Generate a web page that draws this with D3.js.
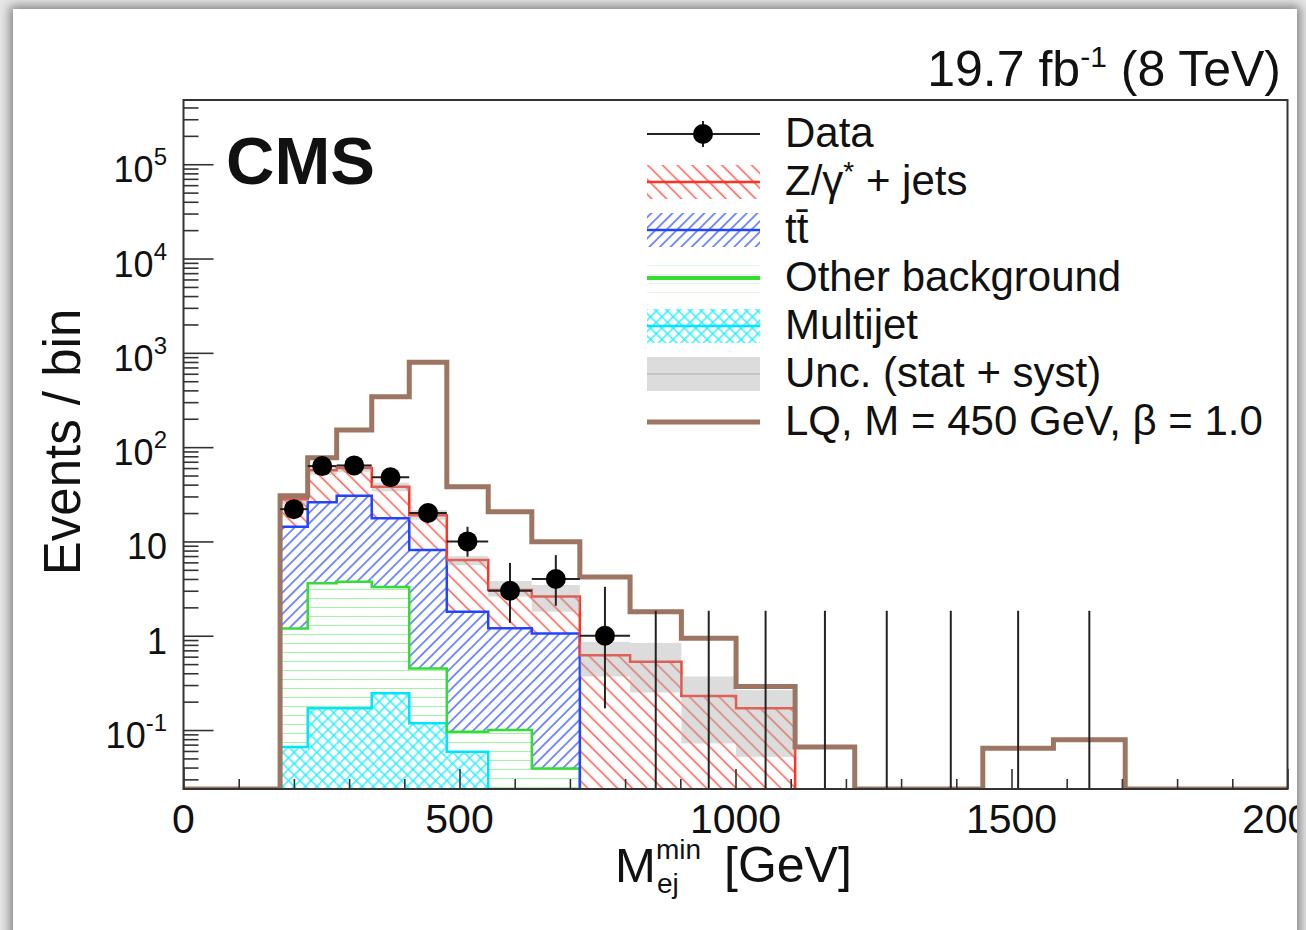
<!DOCTYPE html>
<html>
<head>
<meta charset="utf-8">
<script src="https://cdn.jsdelivr.net/npm/d3@7"></script>
<style>
html, body { margin: 0; padding: 0; width: 1306px; height: 930px; overflow: hidden; background: #e6e6e6; }
#card { position: absolute; left: 13px; top: 9px; width: 1284px; height: 940px; background: #fff; overflow: hidden;
        box-shadow: 0 0 10px 3px rgba(0,0,0,0.45); }
#chart { position: absolute; left: -13px; top: -9px; }
text { font-family: "Liberation Sans", Arial, Helvetica, sans-serif; fill: #111; }
</style>
</head>
<body>
<div id="card"><svg id="chart" width="1306" height="930"></svg></div>
<script>
// bin edges of M_ej^min [GeV] (variable width)
const edges = [175, 225, 277.5, 341, 409, 477, 552, 631, 718, 809, 902, 1001, 1108, 1216, 1332, 1448, 1576, 1706];

// backgrounds, per bin (stacked bottom -> top)
const multijet = [0.066, 0.17, 0.17, 0.245, 0.118, 0.059, 0, 0, 0, 0, 0, 0, 0, 0, 0, 0, 0];
const other    = [1.13, 3.43, 3.57, 3.05, 0.33, 0.037, 0.1, 0.039, 0, 0, 0, 0, 0, 0, 0, 0, 0];
const ttbar    = [13.1, 22.4, 26.8, 14.3, 7.65, 1.70, 1.1, 1.02, 0, 0, 0, 0, 0, 0, 0, 0, 0];
const zjets    = [13.7, 31, 29.5, 20.4, 10.9, 4.55, 1.85, 1.54, 0.62, 0.53, 0.23, 0.17, 0, 0, 0, 0, 0];

// total background uncertainty band
const uncLow  = [25, 51, 54, 34, 17, 5.6, 2.6, 1.8, 0.37, 0.25, 0.072, 0.052, 0, 0, 0, 0, 0];
const uncHigh = [31, 63, 66, 42, 21.5, 7.0, 3.8, 3.45, 0.86, 0.84, 0.37, 0.265, 0, 0, 0, 0, 0];

// signal LQ M = 450 GeV
const lq = [30.5, 77, 152, 343, 794, 38, 20.6, 9.9, 4.2, 1.8, 0.94, 0.29, 0.066, 0, 0, 0.064, 0.079];

// data and its error bars
const data     = [22, 63, 64, 48, 20, 10, 3, 4, 1, 0, 0, 0, 0, 0, 0, 0, 0];
const dataLow  = [17.4, 55.1, 56.0, 41.0, 15.6, 6.9, 1.37, 2.08, 0.17, 0, 0, 0, 0, 0, 0, 0, 0];
const dataHigh = [27.2, 71.9, 72.9, 55.8, 25.1, 14.3, 5.92, 7.16, 3.30, 1.84, 1.84, 1.84, 1.84, 1.84, 1.84, 1.84, 1.84];

const xTicks = [0, 500, 1000, 1500, 2000];
const yTicks = [0.1, 1, 10, 100, 1e3, 1e4, 1e5];
const yTickLabels = [["10", "-1"], ["1", ""], ["10", ""], ["10", "2"], ["10", "3"], ["10", "4"], ["10", "5"]];

const legendLabels = ["Data", "Z/γ* + jets", "tt̄", "Other background", "Multijet", "Unc. (stat + syst)", "LQ, M = 450 GeV, β = 1.0"];

const colRed = "#ff3322", colBlue = "#2244ff", colGreen = "#33dd33", colCyan = "#00e5ff", colLQ = "#9c7663";

const svg = d3.select("#chart");
const x = d3.scaleLinear().domain([0, 2000]).range([183.5, 1287.5]);
const y = d3.scaleLog().domain([0.0237, 4.8e5]).range([789, 100]);
const yBot = y.range()[0], yTop = y.range()[1];
const yv = v => v > 0 ? Math.min(y(v), yBot) : yBot;
const nb = edges.length - 1;

// patterns
const defs = svg.append("defs");
function linePattern(id, size, angle, color, width, cross) {
    const p = defs.append("pattern").attr("id", id).attr("patternUnits", "userSpaceOnUse")
        .attr("width", size).attr("height", size)
        .attr("patternTransform", `rotate(${angle})`);
    p.append("line").attr("x1", size / 2).attr("y1", -1).attr("x2", size / 2).attr("y2", size + 1)
        .attr("stroke", color).attr("stroke-width", width);
    if (cross) {
        p.append("line").attr("x1", -1).attr("y1", size / 2).attr("x2", size + 1).attr("y2", size / 2)
            .attr("stroke", color).attr("stroke-width", width);
    }
}
linePattern("pRed", 10.5, -45, "#ff5a4a", 1.5);
linePattern("pBlue", 7.5, 45, "#4d6bff", 1.5);
linePattern("pGreen", 9, 90, "#a6f2a6", 1.1);
linePattern("pCyan", 8, 45, "#22eeff", 1.4, true);

defs.append("clipPath").attr("id", "plotClip").append("rect")
    .attr("x", x(0)).attr("y", yTop).attr("width", x(2000) - x(0)).attr("height", yBot - yTop);

const plot = svg.append("g").attr("clip-path", "url(#plotClip)");

// stacked backgrounds
const rows = d3.range(nb).map(i => ({ multijet: multijet[i], other: other[i], ttbar: ttbar[i], zjets: zjets[i] }));
const series = d3.stack().keys(["multijet", "other", "ttbar", "zjets"])(rows);
const style = {
    multijet: { pat: "pCyan", col: colCyan },
    other: { pat: "pGreen", col: colGreen },
    ttbar: { pat: "pBlue", col: colBlue },
    zjets: { pat: "pRed", col: colRed }
};

series.forEach(s => {
    plot.append("g").selectAll("rect")
        .data(s.map((d, i) => ({ lo: d[0], hi: d[1], i })).filter(d => d.hi > d.lo))
        .enter().append("rect")
        .attr("x", d => x(edges[d.i]))
        .attr("width", d => x(edges[d.i + 1]) - x(edges[d.i]))
        .attr("y", d => yv(d.hi))
        .attr("height", d => yv(d.lo) - yv(d.hi))
        .attr("fill", `url(#${style[s.key].pat})`);
});

function stepPath(vals) {
    let d = "", open = false;
    vals.forEach((v, i) => {
        if (v > 0) {
            if (!open) { d += `M${x(edges[i])},${yBot}`; open = true; }
            d += `L${x(edges[i])},${yv(v)}L${x(edges[i + 1])},${yv(v)}`;
        } else if (open) {
            d += `L${x(edges[i])},${yBot}`; open = false;
        }
    });
    if (open) d += `L${x(edges[nb])},${yBot}`;
    return d;
}

series.forEach(s => {
    const tops = s.map(d => d[1] > d[0] ? d[1] : 0);
    plot.append("path").attr("d", stepPath(tops))
        .attr("fill", "none").attr("stroke", style[s.key].col).attr("stroke-width", 2.5);
});

// uncertainty band
plot.append("g").selectAll("rect")
    .data(d3.range(nb).filter(i => uncHigh[i] > 0))
    .enter().append("rect")
    .attr("x", i => x(edges[i]))
    .attr("width", i => x(edges[i + 1]) - x(edges[i]))
    .attr("y", i => yv(uncHigh[i]))
    .attr("height", i => yv(uncLow[i]) - yv(uncHigh[i]))
    .attr("fill", "#a8a8a8").attr("fill-opacity", 0.4);

// LQ signal
let lqPath = `M${x(0)},${yBot}L${x(edges[0])},${yBot}`;
lq.forEach((v, i) => { lqPath += `L${x(edges[i])},${yv(v)}L${x(edges[i + 1])},${yv(v)}`; });
lqPath += `L${x(edges[nb])},${yBot}L${x(2000)},${yBot}`;
plot.append("path").attr("d", lqPath).attr("fill", "none")
    .attr("stroke", colLQ).attr("stroke-width", 5).attr("stroke-linejoin", "miter");

// data points
const pts = d3.range(nb).map(i => ({
    i, n: data[i], lo: dataLow[i], hi: dataHigh[i],
    xc: (x(edges[i]) + x(edges[i + 1])) / 2
}));
const dg = plot.append("g");
dg.selectAll("line.v").data(pts).enter().append("line").attr("class", "v")
    .attr("x1", d => d.xc).attr("x2", d => d.xc)
    .attr("y1", d => yv(d.lo)).attr("y2", d => yv(d.hi))
    .attr("stroke", "#222").attr("stroke-width", 2);
dg.selectAll("line.h").data(pts.filter(d => d.n > 0)).enter().append("line").attr("class", "h")
    .attr("x1", d => x(edges[d.i])).attr("x2", d => x(edges[d.i + 1]))
    .attr("y1", d => yv(d.n)).attr("y2", d => yv(d.n))
    .attr("stroke", "#222").attr("stroke-width", 2);
dg.selectAll("circle").data(pts.filter(d => d.n > 0)).enter().append("circle")
    .attr("cx", d => d.xc).attr("cy", d => yv(d.n)).attr("r", 10).attr("fill", "#000");

// axes
const minorY = [];
for (let e = -2; e <= 5; e++) for (let k = 2; k <= 9; k++) {
    const v = k * Math.pow(10, e);
    if (v > y.domain()[0] && v < y.domain()[1]) minorY.push(v);
}
const axL = svg.append("g").attr("transform", `translate(${x(0)},0)`);
axL.call(d3.axisLeft(y).tickValues(yTicks).tickSize(-30).tickFormat(""));
axL.call(g => g.append("g").call(d3.axisLeft(y).tickValues(minorY).tickSize(-15).tickFormat("")));
const minorX = d3.range(100, 2000, 100).filter(v => v % 500 !== 0);
const axB = svg.append("g").attr("transform", `translate(0,${yBot})`);
axB.call(d3.axisBottom(x).tickValues(xTicks).tickSize(-20).tickFormat(""));
axB.call(g => g.append("g").call(d3.axisBottom(x).tickValues(minorX).tickSize(-10).tickFormat("")));
svg.selectAll(".domain").remove();
svg.selectAll(".tick line").attr("stroke", "#333").attr("stroke-width", 1.6);

svg.append("rect").attr("x", x(0)).attr("y", yTop).attr("width", x(2000) - x(0)).attr("height", yBot - yTop)
    .attr("fill", "none").attr("stroke", "#333").attr("stroke-width", 2);

// tick labels
yTicks.forEach((v, i) => {
    const t = svg.append("text").attr("x", 167).attr("y", y(v) + 18)
        .attr("text-anchor", "end").attr("font-size", 36);
    t.append("tspan").text(yTickLabels[i][0]);
    if (yTickLabels[i][1]) t.append("tspan").attr("dy", -17).attr("font-size", 24).text(yTickLabels[i][1]);
});
xTicks.forEach(v => {
    svg.append("text").attr("x", x(v)).attr("y", 833).attr("text-anchor", "middle")
        .attr("font-size", 41).text(v);
});

// axis titles
svg.append("text").attr("transform", "translate(80,442) rotate(-90)").attr("text-anchor", "middle")
    .attr("font-size", 51).text("Events / bin");
svg.append("text").attr("x", 615).attr("y", 882).attr("font-size", 49).text("M");
svg.append("text").attr("x", 656).attr("y", 859).attr("font-size", 28).text("min");
svg.append("text").attr("x", 657).attr("y", 893).attr("font-size", 28).text("ej");
svg.append("text").attr("x", 724).attr("y", 882).attr("font-size", 50).text("[GeV]");

// CMS and lumi
svg.append("text").attr("x", 226).attr("y", 184).attr("font-size", 67).attr("font-weight", "bold").text("CMS");
const lumi = svg.append("text").attr("x", 1281).attr("y", 86).attr("text-anchor", "end").attr("font-size", 50);
lumi.append("tspan").text("19.7 fb");
lumi.append("tspan").attr("dy", -19).attr("font-size", 30).text("-1");
lumi.append("tspan").attr("dy", 19).text(" (8 TeV)");

// legend
const lg = svg.append("g");
const lx0 = 647, lx1 = 760, rowY = i => 134 + i * 48;
legendLabels.forEach((lab, i) => {
    const t = lg.append("text").attr("x", 785).attr("y", rowY(i) + 13).attr("font-size", 42);
    if (i === 1) {
        t.append("tspan").text("Z/γ");
        t.append("tspan").attr("dy", -14).attr("font-size", 28).text("*");
        t.append("tspan").attr("dy", 14).text(" + jets");
    } else {
        t.text(lab);
    }
});
// data sample
lg.append("line").attr("x1", lx0).attr("x2", lx1).attr("y1", rowY(0)).attr("y2", rowY(0))
    .attr("stroke", "#222").attr("stroke-width", 2);
lg.append("line").attr("x1", 703).attr("x2", 703).attr("y1", rowY(0) - 13).attr("y2", rowY(0) + 13)
    .attr("stroke", "#222").attr("stroke-width", 2);
lg.append("circle").attr("cx", 703).attr("cy", rowY(0)).attr("r", 10).attr("fill", "#000");
// hatched samples
[[1, "pRed", colRed, 2.5], [2, "pBlue", colBlue, 2.5], [3, "pGreen", colGreen, 4], [4, "pCyan", colCyan, 2.5]].forEach(([i, pat, col, w]) => {
    lg.append("rect").attr("x", lx0).attr("y", rowY(i) - 17).attr("width", lx1 - lx0).attr("height", 34)
        .attr("fill", `url(#${pat})`).attr("opacity", i === 3 ? 0.35 : 1);
    lg.append("line").attr("x1", lx0).attr("x2", lx1).attr("y1", rowY(i)).attr("y2", rowY(i))
        .attr("stroke", col).attr("stroke-width", w);
});
lg.append("rect").attr("x", lx0).attr("y", rowY(5) - 17).attr("width", lx1 - lx0).attr("height", 34)
    .attr("fill", "#a8a8a8").attr("fill-opacity", 0.4);
lg.append("line").attr("x1", lx0).attr("x2", lx1).attr("y1", rowY(5)).attr("y2", rowY(5))
    .attr("stroke", "#aaa").attr("stroke-width", 1);
lg.append("line").attr("x1", lx0).attr("x2", lx1).attr("y1", rowY(6)).attr("y2", rowY(6))
    .attr("stroke", colLQ).attr("stroke-width", 5);
</script>
</body>
</html>
